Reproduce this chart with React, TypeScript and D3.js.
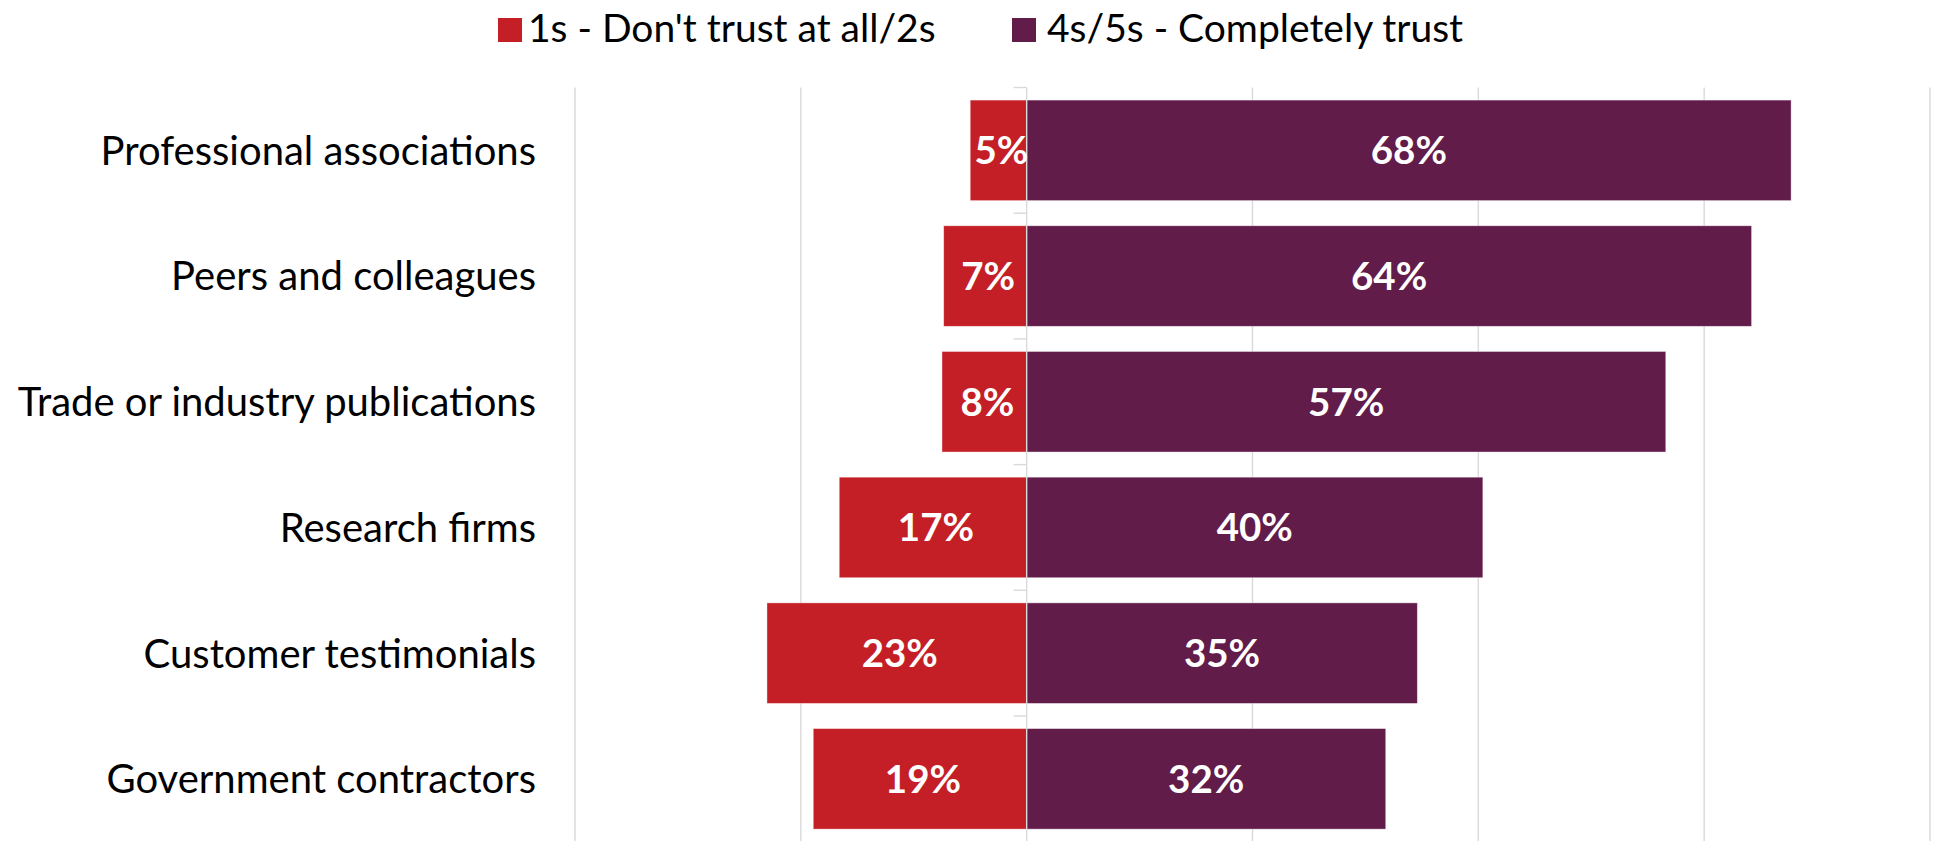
import React from "react";
import * as d3 from "d3";

const categories = [
  "Professional associations",
  "Peers and colleagues",
  "Trade or industry publications",
  "Research firms",
  "Customer testimonials",
  "Government contractors",
];
// values; labels show them rounded
const distrustValues = [5.0, 7.35, 7.5, 16.6, 23.0, 18.9];
const trustValues = [67.7, 64.2, 56.6, 40.4, 34.6, 31.8];
const seriesNames = ["1s - Don't trust at all/2s", "4s/5s - Completely trust"];
const xTicks = [-40, -20, 0, 20, 40, 60, 80];

const RED = "#C41F26";
const PURPLE = "#621C4A";
const GRID = "#d9d9d9";
const FONT = "Lato, 'Open Sans', sans-serif";

const fmt = (v: number) => `${Math.round(v)}%`;

export default function App() {
  const W = 1936;
  const H = 841;
  const x = d3.scaleLinear().domain([-40, 80]).range([575, 1930]);
  const y = d3
    .scaleBand<string>()
    .domain(categories)
    .range([87.5, 841.7])
    .paddingInner(0.2)
    .paddingOuter(0.1);
  const step = y.step();
  const bw = y.bandwidth();
  const x0 = x(0);
  const plotTop = 87.5;
  const plotBottom = 841.7;

  return (
    <svg
      width={W}
      height={H}
      style={{ position: "absolute", left: 0, top: 0, background: "#fff" }}
      fontFamily={FONT}
    >
      {/* gridlines */}
      {xTicks
        .filter((t) => t !== 0)
        .map((t) => (
          <line
            key={t}
            x1={x(t)}
            x2={x(t)}
            y1={plotTop}
            y2={plotBottom}
            stroke={GRID}
            strokeWidth={1.4}
          />
        ))}

      {/* bars */}
      {categories.map((c, i) => {
        const yy = y(c)!;
        return (
          <g key={c}>
            <rect
              x={x(-distrustValues[i])}
              y={yy}
              width={x0 - x(-distrustValues[i])}
              height={bw}
              fill={RED}
              stroke="#fff"
              strokeOpacity={0.5}
              strokeWidth={0.8}
            />
            <rect
              x={x0}
              y={yy}
              width={x(trustValues[i]) - x0}
              height={bw}
              fill={PURPLE}
              stroke="#fff"
              strokeOpacity={0.5}
              strokeWidth={0.8}
            />
          </g>
        );
      })}

      {/* zero axis and ticks */}
      <line x1={x0} x2={x0} y1={plotTop} y2={plotBottom} stroke={GRID} strokeWidth={1.4} />
      {d3.range(categories.length + 1).map((k) => (
        <line
          key={k}
          x1={x0 - 13}
          x2={x0}
          y1={plotTop + k * step}
          y2={plotTop + k * step}
          stroke={GRID}
          strokeWidth={1.4}
        />
      ))}

      {/* value labels */}
      {categories.map((c, i) => {
        const cy = y(c)! + bw / 2;
        return (
          <g key={"l" + c} fill="#fff" fontWeight={700} fontSize={38.5} textAnchor="middle">
            <text x={(x(-distrustValues[i]) + x0) / 2 + 3} y={cy} dy="0.36em">
              {fmt(distrustValues[i])}
            </text>
            <text x={(x(trustValues[i]) + x0) / 2} y={cy} dy="0.36em">
              {fmt(trustValues[i])}
            </text>
          </g>
        );
      })}

      {/* category labels */}
      {categories.map((c) => (
        <text
          key={"c" + c}
          x={536}
          y={y(c)! + bw / 2}
          dy="0.36em"
          textAnchor="end"
          fontSize={40}
          fill="#000"
        >
          {c}
        </text>
      ))}

      {/* legend */}
      <g fontSize={39} fill="#000">
        <rect x={498} y={18} width={24} height={24} fill={RED} />
        <text x={528} y={41.5}>
          {seriesNames[0]}
        </text>
        <rect x={1012} y={18} width={24} height={24} fill={PURPLE} />
        <text x={1047} y={41.5}>
          {seriesNames[1]}
        </text>
      </g>
    </svg>
  );
}
